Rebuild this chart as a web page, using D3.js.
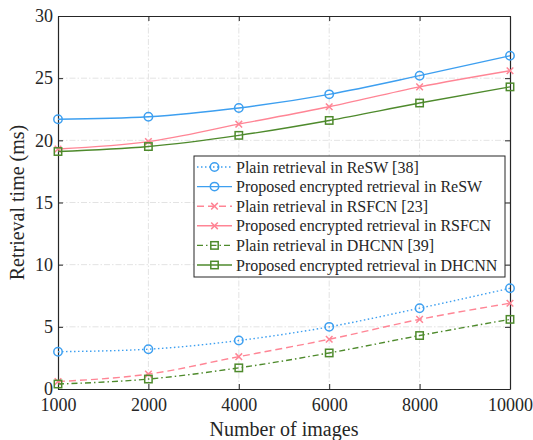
<!DOCTYPE html>
<html><head><meta charset="utf-8">
<script src="https://cdn.jsdelivr.net/npm/d3@7/dist/d3.min.js"></script>
<style>body{margin:0;background:#fff;}</style>
</head><body><svg id="c" width="533" height="440">
<text x="284" y="436" text-anchor="middle" style="font-family:'Liberation Serif';font-size:20px;fill:#262626">Number of images</text>
<text transform="translate(24,202.5) rotate(-90)" text-anchor="middle" style="font-family:'Liberation Serif';font-size:20px;fill:#262626">Retrieval time (ms)</text>
</svg>
<script>
const categories = ["1000","2000","4000","6000","8000","10000"];
const yTicks = [0,5,10,15,20,25,30];
const plainReSW = [3.0,3.2,3.9,5.0,6.5,8.1];
const encReSW = [21.7,21.9,22.6,23.7,25.2,26.8];
const plainRSFCN = [0.6,1.2,2.6,4.0,5.6,6.9];
const encRSFCN = [19.3,19.9,21.3,22.7,24.3,25.6];
const plainDHCNN = [0.4,0.8,1.7,2.9,4.3,5.6];
const encDHCNN = [19.1,19.5,20.4,21.6,23.0,24.3];
const seriesNames = ["Plain retrieval in ReSW [38]","Proposed encrypted retrieval in ReSW","Plain retrieval in RSFCN [23]","Proposed encrypted retrieval in RSFCN","Plain retrieval in DHCNN [39]","Proposed encrypted retrieval in DHCNN"];

const FSTYLE = "font-family:'Liberation Serif';";
const blue="#3d9ff0", pink="#ff8595", green="#4e8a2c";
const series = [
 {name:seriesNames[0], v:plainReSW, color:blue, dash:"1.5,2.5", marker:"circle"},
 {name:seriesNames[1], v:encReSW, color:blue, dash:null, marker:"circle"},
 {name:seriesNames[2], v:plainRSFCN, color:pink, dash:"7,4", marker:"x"},
 {name:seriesNames[3], v:encRSFCN, color:pink, dash:null, marker:"x"},
 {name:seriesNames[4], v:plainDHCNN, color:green, dash:"6,3,1.5,3", marker:"square"},
 {name:seriesNames[5], v:encDHCNN, color:green, dash:null, marker:"square"}
];

const svg = d3.select("#c");
const L=58, R=510, T=16, B=389;
const x = d3.scalePoint().domain(categories).range([L,R]);
const y = d3.scaleLinear().domain([0,30]).range([B,T]);

// grid
const g = svg.insert("g",":first-child");
g.selectAll(".gx").data(categories.slice(1,-1)).enter().append("line")
 .attr("x1",d=>x(d)).attr("x2",d=>x(d)).attr("y1",T).attr("y2",B)
 .attr("stroke","#dcdcdc").attr("stroke-width",0.8).attr("stroke-dasharray","6,2,1.5,2");
g.selectAll(".gy").data(yTicks.slice(1,-1)).enter().append("line")
 .attr("x1",L).attr("x2",R).attr("y1",d=>y(d)).attr("y2",d=>y(d))
 .attr("stroke","#dcdcdc").attr("stroke-width",0.8).attr("stroke-dasharray","6,2,1.5,2");

// axes
const xAx = svg.append("g").attr("transform",`translate(0,${B})`)
 .call(d3.axisBottom(x).tickSizeInner(-5).tickSizeOuter(0).tickPadding(9));
const yAx = svg.append("g").attr("transform",`translate(${L},0)`)
 .call(d3.axisLeft(y).tickValues(yTicks).tickSizeInner(-5).tickSizeOuter(0).tickPadding(5));
svg.append("g").attr("transform",`translate(0,${T})`)
 .call(d3.axisTop(x).tickSizeInner(-5).tickSizeOuter(0).tickFormat(""));
svg.append("g").attr("transform",`translate(${R},0)`)
 .call(d3.axisRight(y).tickValues(yTicks).tickSizeInner(-5).tickSizeOuter(0).tickFormat(""));
svg.selectAll(".domain").attr("stroke","#262626").attr("stroke-width",1.2);
svg.selectAll(".tick line").attr("stroke","#262626").attr("stroke-width",1);
svg.selectAll(".tick text").attr("style",FSTYLE+"font-size:18px").attr("fill","#262626");
xAx.selectAll(".tick text").attr("dy","0.7em");

const line = d3.line().x((d,i)=>x(categories[i])).y(d=>y(d)).curve(d3.curveMonotoneX);

function marker(sel, type, color){
  if(type==="circle") sel.append("circle").attr("r",4.2).attr("fill","none").attr("stroke",color).attr("stroke-width",1.5);
  else if(type==="square") sel.append("rect").attr("x",-3.7).attr("y",-3.7).attr("width",7.4).attr("height",7.4).attr("fill","none").attr("stroke",color).attr("stroke-width",1.5);
  else { sel.append("path").attr("d","M-3.3,-3.3L3.3,3.3M-3.3,3.3L3.3,-3.3").attr("stroke",color).attr("stroke-width",1.5); }
}

series.forEach(s=>{
  svg.append("path").attr("d",line(s.v)).attr("fill","none").attr("stroke",s.color).attr("stroke-width",1.4)
   .attr("stroke-dasharray",s.dash);
  s.v.forEach((v,i)=>{
    const m = svg.append("g").attr("transform",`translate(${x(categories[i])},${y(v)})`);
    marker(m,s.marker,s.color);
  });
});

// legend
const lx=194, ly=156, lw=311, lh=121;
const leg = svg.append("g");
leg.append("rect").attr("x",lx).attr("y",ly).attr("width",lw).attr("height",lh).attr("fill","#fff").attr("stroke","#262626").attr("stroke-width",1);
series.forEach((s,i)=>{
  const yy = ly+11+i*19.6;
  leg.append("line").attr("x1",lx+3).attr("x2",lx+38).attr("y1",yy).attr("y2",yy).attr("stroke",s.color).attr("stroke-width",1.4).attr("stroke-dasharray",s.dash);
  const m = leg.append("g").attr("transform",`translate(${lx+20.5},${yy})`);
  marker(m,s.marker,s.color);
  leg.append("text").attr("x",lx+42).attr("y",yy).attr("dy","0.35em").attr("style",FSTYLE+"font-size:16px").attr("fill","#262626").text(s.name);
});
</script></body></html>
